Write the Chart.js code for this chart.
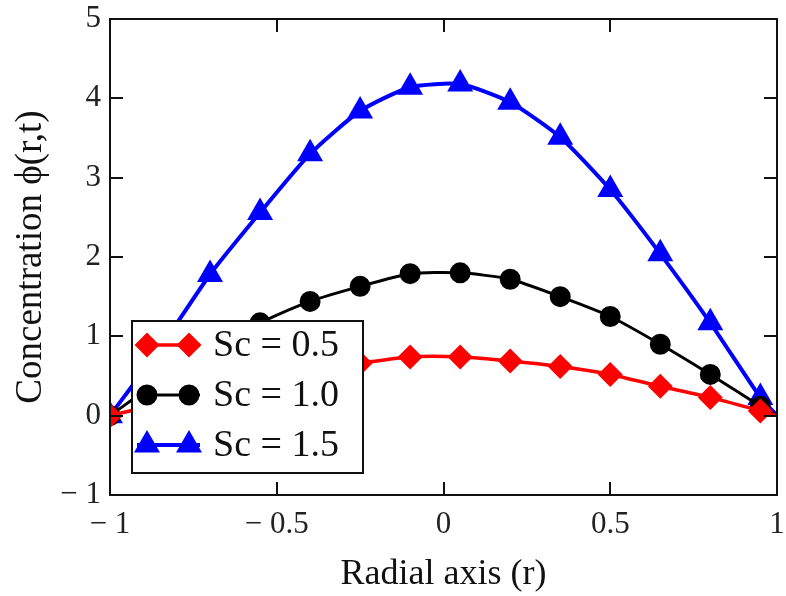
<!DOCTYPE html>
<html><head><meta charset="utf-8">
<script src="https://cdn.jsdelivr.net/npm/chart.js@4.4.1/dist/chart.umd.min.js"></script>
<style>html,body{margin:0;padding:0;background:#fff}#wrap{width:786px;height:596px}</style>
</head><body><div id="wrap"><canvas id="c" width="786" height="596"></canvas></div>
<script>
// ---- data ----
const radius = [-1, -0.85, -0.7, -0.55, -0.4, -0.25, -0.1, 0.05, 0.2, 0.35, 0.5, 0.65, 0.8, 0.95, 1];
const sc05 = [0, 0.15, 0.30, 0.42, 0.55, 0.66, 0.74, 0.74, 0.69, 0.62, 0.52, 0.37, 0.23, 0.06, 0];
const sc10 = [0, 0.45, 0.85, 1.17, 1.44, 1.63, 1.79, 1.80, 1.72, 1.50, 1.25, 0.90, 0.52, 0.12, 0];
const sc15 = [0, 0.85, 1.78, 2.56, 3.30, 3.84, 4.14, 4.18, 3.95, 3.51, 2.85, 2.04, 1.17, 0.23, 0];
const seriesLabels = ['Sc = 0.5', 'Sc = 1.0', 'Sc = 1.5'];
const xTicks = [-1, -0.5, 0, 0.5, 1];
const yTicks = [-1, 0, 1, 2, 3, 4, 5];
const xTitle = 'Radial axis (r)';
const yTitle = 'Concentration \u03D5(r,t)';

const FONT = '"Liberation Serif", "Times New Roman", serif';
const fmt = v => v < 0 ? '\u2212 ' + String(Math.abs(v)) : String(v);
const pts = arr => radius.map((r, i) => ({x: r, y: arr[i]}));
const radii = (r) => radius.map((v, i) => i === radius.length - 1 ? 0 : r);
const noPad = s => { s.paddingTop = 0; s.paddingBottom = 0; s.paddingLeft = 0; s.paddingRight = 0; };

const datasets = [
  {label: seriesLabels[0], data: pts(sc05), borderColor: '#ff0000', backgroundColor: '#ff0000',
   pointStyle: 'rectRot', pointRadius: radii(10), borderWidth: 3.5, tension: 0.2},
  {label: seriesLabels[1], data: pts(sc10), borderColor: '#000000', backgroundColor: '#000000',
   pointStyle: 'circle', pointRadius: radii(9), borderWidth: 3, tension: 0.2},
  {label: seriesLabels[2], data: pts(sc15), borderColor: '#0000ff', backgroundColor: '#0000ff',
   pointStyle: 'triangle', pointRadius: radii(11), borderWidth: 4, tension: 0.2}
];

const frame = {
  id: 'frame',
  afterDatasetsDraw(chart) {
    const {ctx, chartArea: a, scales} = chart;
    ctx.save();
    ctx.strokeStyle = '#111';
    ctx.lineWidth = 2;
    ctx.strokeRect(a.left, a.top, a.right - a.left, a.bottom - a.top);
    const L = 13;
    ctx.beginPath();
    xTicks.slice(1, -1).forEach(v => {
      const x = Math.round(scales.x.getPixelForValue(v));
      ctx.moveTo(x, a.bottom); ctx.lineTo(x, a.bottom - L);
      ctx.moveTo(x, a.top); ctx.lineTo(x, a.top + L);
    });
    yTicks.slice(1, -1).forEach(v => {
      const y = Math.round(scales.y.getPixelForValue(v));
      ctx.moveTo(a.left, y); ctx.lineTo(a.left + L, y);
      ctx.moveTo(a.right, y); ctx.lineTo(a.right - L, y);
    });
    ctx.stroke();
    ctx.restore();
  },
  afterDraw(chart) {
    const {ctx} = chart;
    const bx = 132, by = 321, bw = 231, bh = 152;
    ctx.save();
    ctx.fillStyle = '#fff';
    ctx.fillRect(bx, by, bw, bh);
    ctx.strokeStyle = '#111';
    ctx.lineWidth = 2;
    ctx.strokeRect(bx, by, bw, bh);
    chart.data.datasets.forEach((ds, i) => {
      const y = 345 + i * 50;
      ctx.strokeStyle = ds.borderColor;
      ctx.lineWidth = ds.borderWidth;
      ctx.beginPath(); ctx.moveTo(137, y); ctx.lineTo(200, y); ctx.stroke();
      const r = ds.pointRadius[0];
      [147, 189].forEach(px => {
        ctx.fillStyle = ds.backgroundColor;
        Chart.helpers.drawPoint(ctx, {pointStyle: ds.pointStyle, radius: r, rotation: 0, borderWidth: 1}, px, y);
        ctx.fill();
      });
      ctx.fillStyle = '#111';
      ctx.font = '38px ' + FONT;
      ctx.textBaseline = 'middle';
      ctx.textAlign = 'left';
      ctx.fillText(ds.label, 213, y + 1);
    });
    ctx.restore();
  }
};

new Chart(document.getElementById('c'), {
  type: 'line',
  data: {datasets},
  plugins: [frame],
  options: {
    responsive: false,
    animation: false,
    layout: {autoPadding: false, padding: {top: 19, right: 9, left: 0, bottom: 0}},
    plugins: {legend: {display: false}, tooltip: {enabled: false}},
    elements: {point: {borderWidth: 1}},
    scales: {
      x: {
        type: 'linear', min: -1, max: 1,
        afterBuildTicks: s => { s.ticks = xTicks.map(v => ({value: v})); },
        afterFit: s => { s.height = 101; noPad(s); },
        grid: {display: false}, border: {display: false},
        ticks: {callback: v => fmt(v), font: {family: FONT, size: 31}, color: '#222', padding: 3, maxRotation: 0, autoSkip: false},
        title: {display: true, text: xTitle, font: {family: FONT, size: 36}, color: '#111', padding: {top: 0, bottom: 0}}
      },
      y: {
        type: 'linear', min: -1, max: 5,
        afterBuildTicks: s => { s.ticks = yTicks.map(v => ({value: v})); },
        afterFit: s => { s.width = 110; noPad(s); },
        grid: {display: false}, border: {display: false},
        ticks: {callback: v => fmt(v), font: {family: FONT, size: 31}, color: '#222', padding: 1, autoSkip: false},
        title: {display: true, text: yTitle, font: {family: FONT, size: 37}, color: '#111', padding: {top: 9, bottom: 0}}
      }
    }
  }
});
</script>
</body></html>
